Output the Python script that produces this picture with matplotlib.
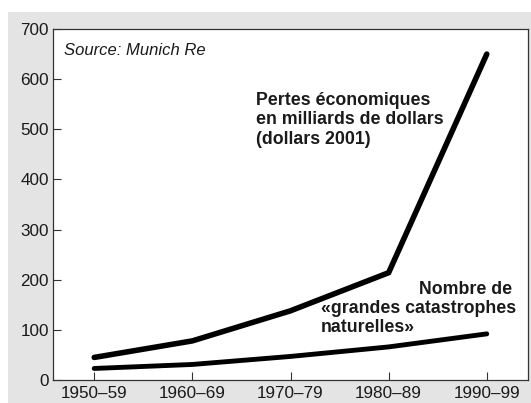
import matplotlib
matplotlib.use("Agg")
import matplotlib.pyplot as plt
from matplotlib.patches import Rectangle

# decades on the x axis
decades = ["1950–59", "1960–69", "1970–79", "1980–89", "1990–99"]
# economic losses, billions of 2001 dollars
losses = [45, 78, 138, 214, 650]
# number of "great natural catastrophes"
catastrophes = [23, 31, 47, 66, 92]
y_ticks = [0, 100, 200, 300, 400, 500, 600, 700]

W, H = 531, 403
fig = plt.figure(figsize=(W / 100, H / 100), dpi=100)
fig.patch.set_facecolor("white")

# gray panel behind the chart
fig.add_artist(
    Rectangle((8 / W, 0), 1 - 8 / W, 1 - 12 / H, transform=fig.transFigure,
              facecolor="#e4e4e4", edgecolor="none", zorder=-10)
)

ax = fig.add_axes([53 / W, 1 - 380 / H, (528 - 53) / W, (380 - 29) / H])
ax.set_zorder(1)
ax.set_facecolor("white")

xs = list(range(len(decades)))
ax.plot(xs, losses, color="black", linewidth=4.0,
        solid_capstyle="round", solid_joinstyle="miter", zorder=3)
ax.plot(xs, catastrophes, color="black", linewidth=3.5,
        solid_capstyle="round", solid_joinstyle="round", zorder=3)

ax.set_xlim(-0.42, 4.42)
ax.set_ylim(0, 700)
ax.set_xticks(xs)
ax.set_xticklabels(decades)
ax.set_yticks(y_ticks)

tick_font = ["Liberation Sans", "DejaVu Sans"]
for lab in ax.get_xticklabels() + ax.get_yticklabels():
    lab.set_family(tick_font)
    lab.set_fontsize(12.3)
    lab.set_color("#1a1a1a")

ax.tick_params(axis="both", direction="in", length=6, width=0.8,
               color="#333333")
ax.tick_params(axis="y", pad=3)
ax.tick_params(axis="x", pad=4)

for side in ["left", "right", "top", "bottom"]:
    ax.spines[side].set_color("#333333")
    ax.spines[side].set_linewidth(0.9)

ax.text(-0.31, 648, "Source: Munich Re", family=tick_font, style="italic",
        fontsize=12, color="#1a1a1a", ha="left", va="baseline")

bold = dict(family=["Liberation Sans", "DejaVu Sans"], fontweight="bold",
            fontsize=12.8, color="#1a1a1a", va="baseline")
ax.text(1.65, 548, "Pertes économiques", ha="left", **bold)
ax.text(1.65, 510, "en milliards de dollars", ha="left", **bold)
ax.text(1.65, 471, "(dollars 2001)", ha="left", **bold)

ax.text(4.26, 171, "Nombre de", ha="right", **bold)
ax.text(2.31, 133, "«grandes catastrophes", ha="left", **bold)
ax.text(2.31, 95, "naturelles»", ha="left", **bold)

fig.savefig("out.png", dpi=100, facecolor=fig.get_facecolor())
